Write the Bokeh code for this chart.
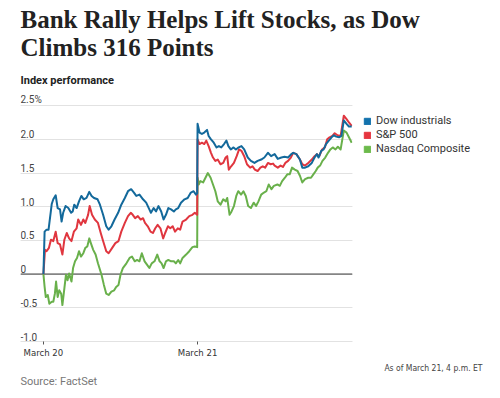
from bokeh.plotting import figure
from bokeh.models import Range1d, FixedTicker, Grid, Span, Legend, LegendItem, Title, ColumnDataSource
from bokeh.core.properties import value
from bokeh.embed import file_html
from bokeh.resources import INLINE

# minutes since March 20 open (390 = March 21 open), percent change
dow = [(0,0),(3,0.63),(8,0.66),(13,0.66),(21,1.04),(25,1.11),(31,1.17),(36,0.98),(42,0.96),(46,0.78),
       (50,0.91),(56,1.01),(63,0.98),(70,0.91),(74,0.93),(78,1.03),(84,0.98),(90,1.08),(96,1.16),(102,1.11),
       (109,1.13),(116,1.22),(122,1.16),(128,1.13),(137,1.11),(143,1.03),(151,0.88),(159,0.71),(165,0.66),(172,0.71),
       (180,0.81),(189,0.91),(197,1.03),(206,1.13),(214,1.23),(222,1.26),(229,1.21),(235,1.16),(243,1.18),(252,1.11),
       (260,1.06),(268,0.96),(272,0.91),(279,0.98),(285,0.93),(291,1.01),(298,0.93),(304,0.81),(310,0.88),(316,0.98),
       (323,0.96),(330,0.93),(335,0.96),(341,0.98),(348,1.06),(357,1.11),(365,1.13),(373,1.21),(380,1.23),(386,1.18),
       (389,1.20),
       (390,2.23),(395,2.10),(401,2.08),(407,2.10),(414,2.14),(418,2.05),(424,2.00),(431,1.95),(438,1.88),(444,1.90),
       (450,1.88),(457,1.93),(463,1.98),(468,1.90),(474,1.85),(481,1.88),(487,1.85),(494,1.88),(501,1.90),(508,1.85),
       (517,1.73),(525,1.68),(534,1.65),(542,1.68),(551,1.70),(559,1.73),(568,1.80),(576,1.75),(585,1.78),(593,1.71),
       (602,1.73),(610,1.74),(619,1.73),(627,1.78),(632,1.80),(640,1.78),(649,1.70),(655,1.58),(662,1.58),(670,1.60),
       (679,1.65),(686,1.73),(692,1.78),(696,1.73),(703,1.83),(709,1.85),(715,1.93),(722,1.98),(729,2.03),(735,2.06),
       (741,2.04),(748,2.03),(754,2.05),(760,2.28),(767,2.23),(773,2.19),(780,2.19)]

spx = [(0,0),(4,0.36),(8,0.34),(14,0.39),(19,0.51),(25,0.49),(31,0.63),(36,0.46),(42,0.44),(48,0.29),
       (53,0.51),(59,0.61),(65,0.53),(71,0.49),(77,0.63),(84,0.68),(88,0.81),(95,0.73),(101,0.81),(106,0.76),
       (113,0.88),(117,1.01),(123,0.88),(130,0.81),(138,0.76),(145,0.61),(151,0.49),(159,0.34),(165,0.31),(174,0.39),
       (182,0.46),(190,0.49),(197,0.63),(206,0.76),(214,0.86),(221,0.91),(226,0.88),(232,0.83),(239,0.86),(246,0.81),
       (252,0.83),(257,0.76),(264,0.71),(271,0.63),(277,0.61),(283,0.68),(289,0.73),(296,0.68),(303,0.53),(308,0.61),
       (315,0.71),(321,0.68),(327,0.71),(333,0.63),(340,0.68),(346,0.66),(352,0.78),(361,0.81),(369,0.86),(377,0.88),
       (383,0.91),(389,0.88),
       (390,2.00),(395,1.93),(401,1.95),(407,1.93),(412,1.98),(418,1.90),(424,1.80),(429,1.73),(435,1.68),(441,1.70),
       (448,1.63),(455,1.65),(461,1.73),(465,1.75),(469,1.55),(475,1.60),(482,1.65),(489,1.75),(495,1.85),(501,1.83),
       (508,1.75),(515,1.63),(523,1.58),(529,1.60),(535,1.55),(542,1.53),(549,1.58),(555,1.60),(561,1.58),(568,1.65),
       (575,1.63),(581,1.64),(585,1.61),(593,1.58),(600,1.61),(606,1.59),(612,1.65),(619,1.68),(626,1.73),(632,1.80),
       (640,1.78),(649,1.70),(655,1.63),(662,1.61),(670,1.65),(679,1.70),(686,1.75),(692,1.78),(698,1.75),(705,1.85),
       (712,1.88),(718,2.00),(724,2.03),(731,2.05),(737,2.09),(744,2.06),(752,2.05),(760,2.35),(767,2.30),(773,2.25),
       (780,2.20)]

ndq = [(0,0),(3,-0.19),(6,-0.34),(11,-0.31),(15,-0.44),(21,-0.41),(25,-0.41),(29,-0.29),(32,-0.11),(36,-0.34),
       (40,-0.24),(45,-0.29),(48,-0.46),(53,-0.21),(57,-0.01),(61,-0.09),(65,0.01),(71,-0.11),(75,0.09),(80,0.19),
       (85,0.24),(90,0.34),(95,0.26),(101,0.31),(106,0.39),(111,0.41),(116,0.53),(120,0.46),(126,0.36),(132,0.29),
       (138,0.16),(147,-0.01),(153,-0.16),(159,-0.29),(165,-0.31),(172,-0.26),(179,-0.24),(184,-0.19),(190,-0.16),(195,-0.01),
       (201,0.09),(210,0.16),(218,0.24),(224,0.26),(231,0.19),(237,0.21),(243,0.19),(249,0.31),(256,0.19),(262,0.14),
       (268,0.09),(274,0.16),(281,0.19),(288,0.29),(294,0.19),(299,0.16),(304,0.09),(310,0.19),(316,0.21),(323,0.19),
       (330,0.19),(335,0.16),(341,0.21),(346,0.16),(352,0.24),(361,0.29),(369,0.34),(377,0.40),(383,0.41),(389,0.40),
       (390,1.43),(393,1.33),(397,1.38),(404,1.36),(410,1.43),(416,1.50),(423,1.43),(429,1.33),(435,1.23),(441,1.08),
       (448,1.03),(455,1.11),(461,1.08),(465,1.13),(471,0.88),(476,0.93),(482,1.01),(488,1.16),(493,1.23),(500,1.18),
       (506,1.23),(512,1.16),(518,1.01),(525,0.98),(532,1.06),(538,1.01),(544,1.08),(551,1.18),(558,1.21),(564,1.23),
       (570,1.33),(577,1.26),(583,1.31),(592,1.33),(598,1.31),(604,1.38),(611,1.43),(617,1.48),(623,1.48),(629,1.58),
       (636,1.55),(643,1.53),(649,1.46),(655,1.36),(662,1.41),(670,1.43),(677,1.43),(683,1.48),(689,1.53),(694,1.58),
       (700,1.61),(706,1.68),(713,1.73),(720,1.80),(726,1.85),(732,1.88),(739,1.85),(745,1.89),(752,1.85),(760,2.13),
       (767,2.10),(773,2.03),(780,1.95)]

series_names = ["Dow industrials", "S&P 500", "Nasdaq Composite"]
line_colors = ["#13699b", "#e0363f", "#69b04b"]
legend_colors = ["#1272ad", "#e6353f", "#6cba4b"]

y_ticks = [-1.0, -0.5, 0, 0.5, 1.0, 1.5, 2.0, 2.5]
y_tick_labels = ["-1.0", "-0.5", "0", "0.5", "1.0", "1.5", "2.0", "2.5%"]
x_ticks = [0, 390]
x_tick_labels = ["March 20", "March 21"]

p = figure(frame_width=332, frame_height=248,
           x_range=Range1d(-58, 782), y_range=Range1d(-1.0, 2.68),
           output_backend="svg", toolbar_location=None, y_axis_location=None,
           min_border_left=20, min_border_right=0, min_border_top=0, min_border_bottom=0)
p.title.visible = False
p.outline_line_color = None
p.xgrid.visible = False
p.background_fill_color = "white"
p.border_fill_color = "white"

grid = Grid(dimension=1, ticker=FixedTicker(ticks=y_ticks), grid_line_color="#e2e2e2", grid_line_width=1)
p.add_layout(grid, "center")

zero = Span(location=0, dimension="width", line_color="#858585", line_width=1.6, level="underlay")
p.add_layout(zero)

# y tick labels sitting above the grid lines
p.text(x=[p.x_range.start] * len(y_ticks), y=y_ticks, text=y_tick_labels,
       text_align="left", text_baseline="bottom", y_offset=-1,
       text_font=value("Roboto"), text_font_size="10px", text_color="#444444")

# lines (drawn Nasdaq, S&P, Dow so Dow is on top)
data = [dow, spx, ndq]
for idx in [2, 1, 0]:
    t = [a for a, b in data[idx]]
    v = [b for a, b in data[idx]]
    p.line(t, v, line_color=line_colors[idx], line_width=2, line_join="round")

# x axis
xa = p.xaxis[0]
xa.ticker = FixedTicker(ticks=x_ticks)
xa.major_label_overrides = dict(zip(x_ticks, x_tick_labels))
xa.axis_line_color = "#e2e2e2"
xa.major_tick_in = 0
xa.major_tick_out = 3
xa.major_tick_line_color = "#555555"
xa.minor_tick_line_color = None
xa.major_label_standoff = 2
xa.major_label_text_font = "DejaVu Sans Condensed"
xa.major_label_text_font_size = "9.5px"
xa.major_label_text_color = "#333333"

# legend (square swatches) in a right-hand panel; proxies are hidden, zero-size
items = []
for name, col, ser in zip(series_names, legend_colors, data):
    src = ColumnDataSource(dict(left=[ser[0][0]], right=[ser[0][0]], top=[ser[0][1]], bottom=[ser[0][1]]))
    r = p.quad(left="left", right="right", top="top", bottom="bottom", source=src,
               fill_color=col, line_color=col, visible=False)
    items.append(LegendItem(label=name, renderers=[r]))
legend = Legend(items=items, location=(11, 186), border_line_color=None,
                background_fill_alpha=0, label_text_font="Roboto", label_text_font_size="11px",
                label_text_color="#333333", glyph_width=8, glyph_height=8, label_height=12,
                spacing=1, label_standoff=5, padding=0, margin=0,
                inactive_fill_alpha=0, click_policy="none")
p.add_layout(legend, "right")

# titles (added closest-first)
t_idx = Title(text="Index performance", text_font="Roboto", text_font_style="bold",
              text_font_size="11px", text_color="#222222", standoff=14)
t_main = Title(text="Bank Rally Helps Lift Stocks, as Dow\nClimbs 316 Points", text_font="Liberation Serif",
               text_font_style="bold", text_font_size="25px", text_color="#222222",
               text_line_height=1.04, standoff=7)
p.add_layout(t_idx, "above")
p.add_layout(t_main, "above")

t_asof = Title(text="As of March 21, 4 p.m. ET", align="right", offset=-130, text_font="DejaVu Sans Condensed",
               text_font_style="normal", text_font_size="8.5px", text_color="#444444", standoff=0)
t_src = Title(text="Source: FactSet", align="left", text_font="Roboto", text_font_style="normal",
              text_font_size="11px", text_color="#777777", standoff=0)
p.add_layout(t_asof, "below")
p.add_layout(t_src, "below")

open("out.html", "w").write(file_html(p, INLINE))
